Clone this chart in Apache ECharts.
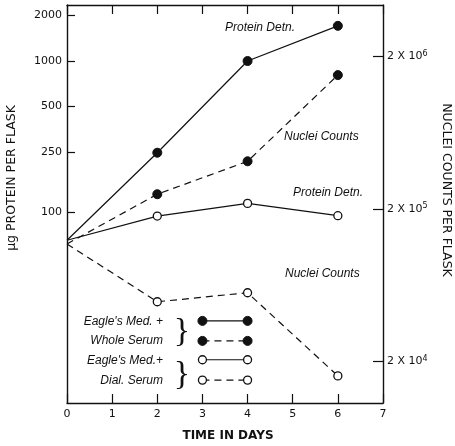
<!DOCTYPE html>
<html><head><meta charset="utf-8">
<script src="https://cdn.jsdelivr.net/npm/echarts@6/dist/echarts.min.js"></script>
<style>html,body{margin:0;padding:0;background:#fff}#c{width:455px;height:446px}</style>
</head><body><div id="c"></div>
<script>
// ---- data ----
const days = [0, 2, 4, 6];
const proteinWhole = [65, 247, 1000, 1710];            // µg protein, whole serum
const nucleiWhole = [118000, 250000, 411000, 1510000]; // nuclei counts, whole serum
const proteinDial = [65, 94, 114, 94.5];                // µg protein, dialyzed serum
const nucleiDial = [118000, 49300, 56500, 16100];       // nuclei counts, dialyzed serum
const proteinTicks = [100, 250, 500, 1000, 2000];
const nucleiTicks = [20000, 200000, 2000000];
const dayTicks = [0, 1, 2, 3, 4, 5, 6, 7];
const legendDays = [3, 4];
const legendLevels = [19.0, 14.0, 10.5, 7.7];

const INK = '#111';
function pts(vals, skipFirst) {
  return vals.map((v, i) => (i === 0 && skipFirst) ? {value: [days[i], v], symbol: 'none'} : [days[i], v]);
}
function key(level) { return legendDays.map(d => [d, level]); }
const filled = {color: INK, borderColor: INK, borderWidth: 1};
const open = {color: '#fff', borderColor: INK, borderWidth: 1.3};
function mk(name, data, yIdx, dashed, style) {
  return {
    name, type: 'line', data, xAxisIndex: 0, yAxisIndex: yIdx,
    symbol: 'circle', symbolSize: style === filled ? 9 : 8,
    lineStyle: {color: INK, width: 1.2, type: dashed ? [7, 5] : 'solid'},
    itemStyle: style, emphasis: {disabled: true}, animation: false, z: 3
  };
}
const sansFont = '"DejaVu Sans", sans-serif';
const italicFont = 'italic 12px "Liberation Sans", sans-serif';
function axisBase() {
  return {axisLine: {show: true, onZero: false, lineStyle: {color: INK, width: 1.4}}, splitLine: {show: false}, minorTick: {show: false}};
}
const supRich = {
  n: {fontFamily: sansFont, fontSize: 11, color: INK},
  s: {fontFamily: sansFont, fontSize: 8, color: INK, verticalAlign: 'top', padding: [0, 0, 6, 0]}
};

const option = {
  backgroundColor: '#fff',
  animation: false,
  grid: {left: 67, right: 72, top: 5, bottom: 43, containLabel: false},
  xAxis: [
    Object.assign(axisBase(), {type: 'value', min: 0, max: 7, interval: 1, position: 'bottom',
      axisTick: {inside: true, length: 9, lineStyle: {color: INK, width: 1.2}},
      axisLabel: {color: INK, fontFamily: sansFont, fontSize: 11, margin: 6, formatter: v => dayTicks.includes(v) ? String(v) : ''}}),
    Object.assign(axisBase(), {type: 'value', min: 0, max: 7, interval: 1, position: 'top',
      axisTick: {inside: true, length: 9, lineStyle: {color: INK, width: 1.2}},
      axisLabel: {show: false}})
  ],
  yAxis: [
    Object.assign(axisBase(), {type: 'log', min: 5.43, max: 2350, position: 'left',
      axisTick: {inside: true, length: 8, customValues: proteinTicks, lineStyle: {color: INK, width: 1.2}},
      axisLabel: {color: INK, fontFamily: sansFont, fontSize: 11, margin: 5, customValues: proteinTicks, formatter: v => String(Math.round(v))}}),
    Object.assign(axisBase(), {type: 'log', min: 10690, max: 4352000, position: 'right',
      axisTick: {inside: true, length: 10, customValues: nucleiTicks, lineStyle: {color: INK, width: 1.2}},
      axisLabel: {color: INK, margin: 4, customValues: nucleiTicks, rich: supRich,
        formatter: v => { const e = Math.round(Math.log10(v / 2)); return '{n|2 X 10}{s|' + e + '}'; }}})
  ],
  series: [
    mk('Protein Detn. (Whole Serum)', pts(proteinWhole, true), 0, false, filled),
    mk('Nuclei Counts (Whole Serum)', pts(nucleiWhole, true), 1, true, filled),
    mk('Protein Detn. (Dial. Serum)', pts(proteinDial, true), 0, false, open),
    mk('Nuclei Counts (Dial. Serum)', pts(nucleiDial, true), 1, true, open),
    mk('key1', key(legendLevels[0]), 0, false, filled),
    mk('key2', key(legendLevels[1]), 0, true, filled),
    mk('key3', key(legendLevels[2]), 0, false, open),
    mk('key4', key(legendLevels[3]), 0, true, open)
  ],
  graphic: [
    {type: 'text', x: 12, y: 178, rotation: Math.PI / 2, style: {text: 'μg PROTEIN PER FLASK', fill: INK, font: '12.5px ' + sansFont, textAlign: 'center', textVerticalAlign: 'middle'}},
    {type: 'text', x: 446, y: 190, rotation: -Math.PI / 2, style: {text: 'NUCLEI COUNTS PER FLASK', fill: INK, font: '12.5px ' + sansFont, textAlign: 'center', textVerticalAlign: 'middle'}},
    {type: 'text', x: 228, y: 436, style: {text: 'TIME IN DAYS', fill: INK, font: 'bold 12px ' + sansFont, textAlign: 'center', textVerticalAlign: 'middle'}},
    {type: 'text', x: 225, y: 28, style: {text: 'Protein Detn.', fill: INK, font: italicFont, textAlign: 'left', textVerticalAlign: 'middle'}},
    {type: 'text', x: 284, y: 137, style: {text: 'Nuclei Counts', fill: INK, font: italicFont, textAlign: 'left', textVerticalAlign: 'middle'}},
    {type: 'text', x: 293, y: 193, style: {text: 'Protein Detn.', fill: INK, font: italicFont, textAlign: 'left', textVerticalAlign: 'middle'}},
    {type: 'text', x: 285, y: 274, style: {text: 'Nuclei Counts', fill: INK, font: italicFont, textAlign: 'left', textVerticalAlign: 'middle'}},
    {type: 'text', x: 163, y: 322, style: {text: "Eagle's Med. +", fill: INK, font: italicFont, textAlign: 'right', textVerticalAlign: 'middle'}},
    {type: 'text', x: 163, y: 341, style: {text: 'Whole Serum', fill: INK, font: italicFont, textAlign: 'right', textVerticalAlign: 'middle'}},
    {type: 'text', x: 163, y: 361, style: {text: "Eagle's Med.+", fill: INK, font: italicFont, textAlign: 'right', textVerticalAlign: 'middle'}},
    {type: 'text', x: 163, y: 381, style: {text: 'Dial. Serum', fill: INK, font: italicFont, textAlign: 'right', textVerticalAlign: 'middle'}},
    {type: 'text', x: 182, y: 332, style: {text: '}', fill: INK, font: '34px "Liberation Serif", serif', textAlign: 'center', textVerticalAlign: 'middle'}},
    {type: 'text', x: 182, y: 375, style: {text: '}', fill: INK, font: '34px "Liberation Serif", serif', textAlign: 'center', textVerticalAlign: 'middle'}}
  ]
};
const chart = echarts.init(document.getElementById('c'), null, {renderer: 'canvas'});
chart.setOption(option);
</script></body></html>
